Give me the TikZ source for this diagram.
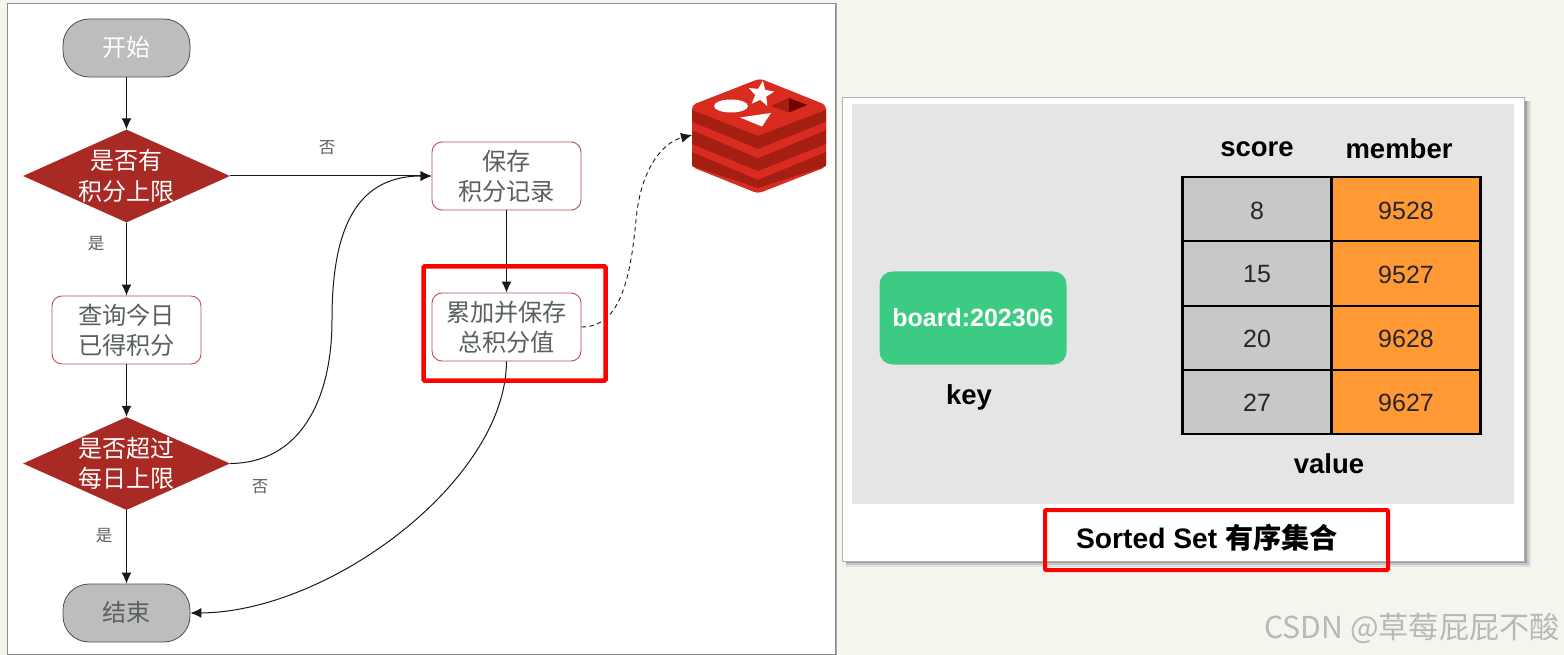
\documentclass[tikz,border=0pt]{standalone}
\usepackage{fontspec}
\setmainfont{Liberation Sans}
\newfontfamily\cjk{Noto Sans CJK SC}
\usetikzlibrary{shapes.geometric,arrows.meta}
\newcommand{\liftup}[2][2pt]{\raisebox{#1}{#2}}
\definecolor{bgc}{HTML}{F4F5EC}
\definecolor{dred}{HTML}{A92A25}
\definecolor{boxred}{HTML}{B85450}
\definecolor{txtg}{HTML}{5A5F5F}
\definecolor{termg}{HTML}{BDBDBD}
\definecolor{rtop}{HTML}{D92B20}
\definecolor{rside}{HTML}{A41E11}
\definecolor{cellg}{HTML}{C8C8C8}
\definecolor{cello}{HTML}{FF9933}
\definecolor{keyg}{HTML}{3CCB82}
\definecolor{panelg}{HTML}{E5E5E5}
\tikzset{
 x=1pt,y=-1pt,
 termbox/.style={draw=black!70,line width=.8pt,fill=termg,rounded corners=26pt,minimum width=127pt,minimum height=58pt,text=white,font=\cjk\fontsize{24}{27}\selectfont,inner sep=0pt},
 termend/.style={termbox,text=txtg},
 decide/.style={diamond,aspect=2.25,fill=dred,text=white,minimum width=207pt,minimum height=93pt,inner sep=-2.2pt,align=center,font=\cjk\fontsize{24}{30}\selectfont},
 procbox/.style={draw=boxred,line width=.9pt,fill=white,rounded corners=10pt,minimum width=149pt,minimum height=68pt,inner sep=0pt,align=center,text=txtg,font=\cjk\fontsize{24.2}{30}\selectfont},
 flow/.style={draw=black!90,line width=1pt,-{Latex[length=11pt,width=10pt]}},
 small/.style={text=txtg,font=\cjk\fontsize{16.5}{18}\selectfont,inner sep=0pt},
 redrect/.style={draw=red,line width=4.5pt,rounded corners=1pt},
 cellbox/.style={draw=black,line width=2.4pt,minimum width=149pt,minimum height=64.5pt,inner sep=0pt},
 celltext/.style={font=\fontsize{25}{28}\selectfont,text=black!85},
 head/.style={font=\bfseries\fontsize{27.5}{30}\selectfont,inner sep=0pt},
}
\begin{document}
\begin{tikzpicture}
\useasboundingbox (0,0) rectangle (1564,655);
\fill[bgc] (0,0) rectangle (1564,655);
% left panel
\fill[black!35] (835,3) rectangle (837,655);
\draw[black!45,fill=white,line width=.8pt] (7,3.5) rectangle (835,654);
% flow nodes
\node[termbox] (start) at (126.5,48) {\liftup[3pt]{开始}};
\node[decide] (d1) at (126.5,176) {\liftup[0pt]{是否有}\\\liftup[-1.5pt]{积分上限}};
\node[procbox] (q) at (126.5,330) {\liftup{查询今日}\\\liftup{已得积分}};
\node[decide] (d2) at (126.5,463.5) {\liftup[-1.5pt]{是否超过}\\\liftup[-1.5pt]{每日上限}};
\node[termend] (end) at (126.5,613) {\liftup[3pt]{结束}};
\node[procbox] (save) at (506.5,176) {\liftup{保存}\\\liftup{积分记录}};
\node[procbox] (sum) at (506.5,327) {\liftup{累加并保存}\\\liftup{总积分值}};
\coordinate (redis) at (692,135);
\draw[flow] (start) -- (d1);
\draw[flow] (d1) -- (q);
\draw[flow] (q) -- (d2);
\draw[flow] (d2) -- (end);
\draw[flow] (d1) -- (save);
\draw[flow] (save) -- (sum);
\draw[flow] (d2.east) .. controls (300,463) and (332,400) .. (332,320) .. controls (332,240) and (350,176) .. (save.west);
\draw[flow] (sum.south) .. controls (506,480) and (330,612) .. (end.east);
\draw[flow,dashed,line width=.9pt,dash pattern=on 4.5pt off 3.5pt] (sum.east) .. controls (618,327) and (630,285) .. (636,220) .. controls (641,165) and (665,142) .. (redis);
\node[small] (n1) at (327,148) {否};
\node[small] (y1) at (96,244) {是};
\node[small] (n2) at (260,487) {否};
\node[small] (y2) at (104,536) {是};
\draw[redrect] (423.5,266.5) rectangle (605.5,380.5);
% redis icon
\begin{scope}[line join=round]
\fill[rtop,rounded corners=4pt] (692,105) -- (760,78.5) -- (826,105) -- (826,167) -- (758,193.5) -- (692,167) -- cycle;
\fill[rside] (692,110) -- (758,136) -- (826,110) -- (826,122) -- (758,149) -- (692,122) -- cycle;
\fill[rside] (692,130) -- (758,158) -- (826,130) -- (826,144) -- (758,171) -- (692,144) -- cycle;
\fill[rside] (692,152) -- (758,180) -- (826,152) -- (826,166) -- (758,188) -- (692,166) -- cycle;
\fill[rtop] (692,122) -- (758,149) -- (826,122) -- (826,130) -- (758,158) -- (692,130) -- cycle;
\fill[white] (731,106) ellipse [x radius=17pt,y radius=6.5pt];
\node[star,star points=5,star point ratio=2.3,fill=white,minimum size=27pt,inner sep=0pt,rotate=-8] (st) at (761,94) {};
\fill[white] (740,117.5) -- (771,113) -- (762,126.5) -- cycle;
\fill[rside] (771,106) -- (789,98) -- (807,105) -- (789,112.5) -- cycle;
\fill[black!10!red!50!black] (789,98) -- (807,105) -- (789,112.5) -- cycle;
\end{scope}
% right panel
\fill[black!12] (846,101) rectangle (1531,567);
\fill[black!22] (846,101) rectangle (1529,565);
\fill[black!38] (846,101) rectangle (1527,563);
\draw[black!30,fill=white,line width=.8pt] (842,97) rectangle (1524,561);
\fill[panelg] (852,104) rectangle (1514,504);
\node[fill=keyg,rounded corners=13pt,minimum width=187pt,minimum height=93pt,inner sep=0pt,text=white,font=\bfseries\fontsize{25}{28}\selectfont] (key) at (973,318) {board:202306};
\node[head] (keyl) at (969,397) {key};
\node[head] (sc) at (1257,149) {score};
\node[head] (me) at (1399,149) {member};
\node[cellbox,fill=cellg] (a1) at (1257,209.5) {};
\node[cellbox,fill=cellg] (a2) at (1257,273.5) {};
\node[cellbox,fill=cellg] (a3) at (1257,338) {};
\node[cellbox,fill=cellg] (a4) at (1257,402) {};
\node[cellbox,fill=cello] (b1) at (1406,209.5) {};
\node[cellbox,fill=cello] (b2) at (1406,273.5) {};
\node[cellbox,fill=cello] (b3) at (1406,338) {};
\node[cellbox,fill=cello] (b4) at (1406,402) {};
\node[celltext] (ta1) at (1257,210.5) {8};
\node[celltext] (ta2) at (1257,274.5) {15};
\node[celltext] (ta3) at (1257,339) {20};
\node[celltext] (ta4) at (1257,403) {27};
\node[celltext] (tb1) at (1406,210.5) {9528};
\node[celltext] (tb2) at (1406,274.5) {9527};
\node[celltext] (tb3) at (1406,339) {9628};
\node[celltext] (tb4) at (1406,403) {9627};
\node[head] (val) at (1329,464) {value};
\node[font=\bfseries\fontsize{28.2}{30}\selectfont,inner sep=0pt] (title) at (1207,538) {Sorted Set {\cjk\bfseries 有序集合}};
\draw[redrect,line width=4pt] (1045,510) rectangle (1388,570);
\node[text=black!28,font=\cjk\fontsize{30.2}{32}\selectfont,inner sep=0pt] (wm) at (1412,628) {CSDN @草莓屁屁不酸};
\end{tikzpicture}
\end{document}
